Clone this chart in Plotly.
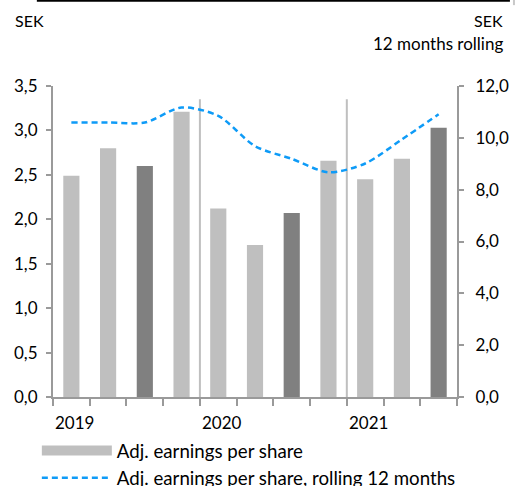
import plotly.graph_objects as go

# quarterly adjusted EPS, SEK (left axis)
quarters = ["Q1 2019", "Q2 2019", "Q3 2019", "Q4 2019",
            "Q1 2020", "Q2 2020", "Q3 2020", "Q4 2020",
            "Q1 2021", "Q2 2021", "Q3 2021"]
eps = [2.49, 2.80, 2.60, 3.21, 2.12, 1.71, 2.07, 2.66, 2.45, 2.68, 3.03]
# rolling 12 months, SEK (right axis)
eps_rolling = [10.59, 10.59, 10.59, 11.17, 10.85, 9.68, 9.19, 8.67, 9.01, 9.94, 10.91]
years = ["2019", "2020", "2021"]

LIGHT = "#BFBFBF"
DARK = "#808080"
BLUE = "#0E9BF7"
AXIS = "#9A9A9A"
FONT = "Lato"

bar_colors = [DARK if q.startswith("Q3") else LIGHT for q in quarters]

fig = go.Figure()

fig.add_trace(go.Bar(
    x=quarters, y=eps,
    marker_color=bar_colors,
    marker_line_width=0,
    width=0.44,
    showlegend=False,
    yaxis="y",
))

# legend entry for the bars (wide swatch like in the original)
fig.add_trace(go.Scatter(
    x=[None], y=[None], mode="lines",
    line=dict(color=LIGHT, width=12),
    name="Adj. earnings per share",
))

fig.add_trace(go.Scatter(
    x=quarters, y=eps_rolling,
    mode="lines",
    line=dict(color=BLUE, width=2.5, dash="6px,4px", shape="spline", smoothing=0.8),
    name="Adj. earnings per share, rolling 12 months",
    yaxis="y2",
))

# year separators and year labels
for yr in years:
    first = quarters.index("Q1 " + yr)
    if first > 0:
        fig.add_shape(type="line", xref="x", yref="y",
                      x0=first - 0.5, x1=first - 0.5, y0=0, y1=3.35,
                      line=dict(color=LIGHT, width=2), layer="below")
    fig.add_annotation(x=first - 0.5, y=0, xref="x", yref="y",
                       text=yr, showarrow=False, xanchor="left",
                       yanchor="middle", yshift=-25, xshift=0,
                       font=dict(size=17, color="black", family=FONT))

# unit labels
fig.add_annotation(x=-0.1, y=1.212, xref="paper", yref="paper", text="SEK",
                   showarrow=False, xanchor="left", yanchor="middle",
                   font=dict(size=16, color="black", family=FONT))
fig.add_annotation(x=1.119, y=1.212, xref="paper", yref="paper",
                   text="SEK", showarrow=False, xanchor="right", yanchor="middle",
                   font=dict(size=16, color="black", family=FONT))
fig.add_annotation(x=1.12, y=1.138, xref="paper", yref="paper",
                   text="12 months rolling", showarrow=False, xanchor="right",
                   yanchor="middle",
                   font=dict(size=17, color="black", family=FONT))

# frame lines at the very top
fig.add_shape(type="line", xref="paper", yref="paper",
              x0=-0.04, x1=1.131, y0=1.274, y1=1.274,
              line=dict(color="black", width=2))
fig.add_shape(type="line", xref="paper", yref="paper",
              x0=1.141, x1=1.141, y0=1.277, y1=1.26,
              line=dict(color="#C8C8C8", width=2))

fig.update_layout(
    width=524, height=486,
    margin=dict(l=53, r=67, t=86, b=89, autoexpand=False),
    paper_bgcolor="white",
    plot_bgcolor="white",
    font=dict(family=FONT, size=17, color="black"),
    separators=", ",
    xaxis=dict(
        type="category",
        tickson="boundaries",
        ticks="outside", ticklen=7, tickwidth=2, tickcolor=AXIS,
        showticklabels=False,
        showline=True, linecolor=AXIS, linewidth=2,
        showgrid=False, zeroline=False,
        range=[-0.5, len(quarters) - 0.5],
    ),
    yaxis=dict(
        range=[0, 3.5], dtick=0.5, tickformat=".1f",
        ticks="outside", ticklen=5, tickwidth=2, tickcolor=AXIS,
        showline=True, linecolor=AXIS, linewidth=2,
        showgrid=False, zeroline=False,
        ticklabelstandoff=5,
    ),
    yaxis2=dict(
        range=[0, 12], dtick=2, tickformat=".1f",
        overlaying="y", side="right",
        ticks="outside", ticklen=5, tickwidth=2, tickcolor=AXIS,
        showline=True, linecolor=AXIS, linewidth=2,
        showgrid=False, zeroline=False,
        ticklabelstandoff=8,
    ),
    legend=dict(
        x=-0.04, y=-0.112, xanchor="left", yanchor="top",
        orientation="v", itemwidth=70,
        font=dict(size=18.7, family=FONT),
        bgcolor="rgba(0,0,0,0)",
    ),
)

# the page body has a default 8px margin; drop it so the figure fills the window
fig.write_html("out.html", config={"displayModeBar": False},
               post_script="document.body.style.margin='0px';")
